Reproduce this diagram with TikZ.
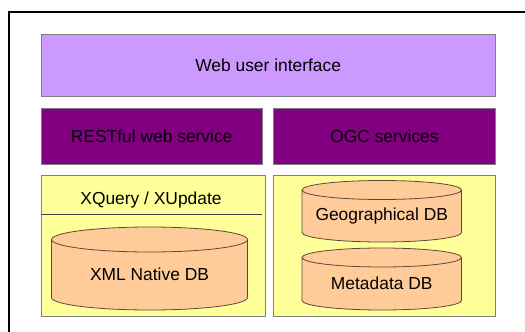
\documentclass[tikz,border=0pt]{standalone}
\usepackage{fontspec}
\setmainfont{Liberation Sans}
\definecolor{uifill}{HTML}{CC99FF}
\definecolor{svcfill}{HTML}{800080}
\definecolor{yelfill}{HTML}{FFFF99}
\definecolor{cylfill}{HTML}{FFCC99}
\definecolor{boxline}{HTML}{808080}
\definecolor{cylline}{HTML}{5A4A3A}
\tikzset{
  layerbox/.style={draw=boxline, line width=0.9pt},
  lbl/.style={font=\fontsize{17.4}{20}\selectfont, text=black, inner sep=0pt},
  cylbody/.style={draw=cylline, fill=cylfill, line width=0.8pt},
}
\begin{document}
\begin{tikzpicture}[x=1pt,y=-1pt]
\useasboundingbox (0,0) rectangle (525,332);
\begin{scope}
\clip (0,0) rectangle (525,332);
\draw[line width=2pt] (9,340) -- (9,12) -- (540,12);
\end{scope}
% top layer
\node[layerbox, fill=uifill, minimum width=454.5pt, minimum height=62pt, anchor=north west, inner sep=0pt] (ui) at (40.5,34.3) {};
\node[lbl] (uit) at (ui.center) {Web user interface};
% services
\node[layerbox, fill=svcfill, minimum width=221.5pt, minimum height=56.5pt, anchor=north west, inner sep=0pt] (rest) at (40.5,107.5) {};
\node[lbl] (restt) at (rest.center) {RESTful web service};
\node[layerbox, fill=svcfill, minimum width=222pt, minimum height=56.5pt, anchor=north west, inner sep=0pt] (ogc) at (273,107.5) {};
\node[lbl] (ogct) at (ogc.center) {OGC services};
% storage boxes
\node[layerbox, fill=yelfill, minimum width=224.5pt, minimum height=141pt, anchor=north west, inner sep=0pt] (left) at (40.5,175) {};
\node[layerbox, fill=yelfill, minimum width=222pt, minimum height=141pt, anchor=north west, inner sep=0pt] (right) at (273,175) {};
\coordinate (sepl) at (40.5,214.5);
\coordinate (sepr) at (262,214.5);
\draw[draw=black!75, line width=0.8pt] (sepl) -- (sepr);
\node[lbl] (xq) at (151,200) {XQuery / XUpdate};
% XML cylinder
\draw[cylbody] (51.5,239.5) -- (51.5,297.5) arc[start angle=180, end angle=0, x radius=98, y radius=12.5] -- (247.5,239.5) arc[start angle=0, end angle=-180, x radius=98, y radius=12.5] -- cycle;
\draw[draw=cylline, line width=0.8pt] (51.5,239.5) arc[start angle=180, end angle=0, x radius=98, y radius=12.5];
\node[lbl] (xml) at (149.5,274) {XML Native DB};
% Geographical cylinder
\draw[cylbody] (302,190) -- (302,232.5) arc[start angle=180, end angle=0, x radius=79.75, y radius=9.5] -- (461.5,190) arc[start angle=0, end angle=-180, x radius=79.75, y radius=9.5] -- cycle;
\draw[draw=cylline, line width=0.8pt] (302,190) arc[start angle=180, end angle=0, x radius=79.75, y radius=9.5];
\node[lbl] (geo) at (381.75,216) {Geographical DB};
% Metadata cylinder
\draw[cylbody] (302,257.5) -- (302,300.5) arc[start angle=180, end angle=0, x radius=79.75, y radius=9.5] -- (461.5,257.5) arc[start angle=0, end angle=-180, x radius=79.75, y radius=9.5] -- cycle;
\draw[draw=cylline, line width=0.8pt] (302,257.5) arc[start angle=180, end angle=0, x radius=79.75, y radius=9.5];
\node[lbl] (meta) at (381.75,283) {Metadata DB};
\end{tikzpicture}
\end{document}
